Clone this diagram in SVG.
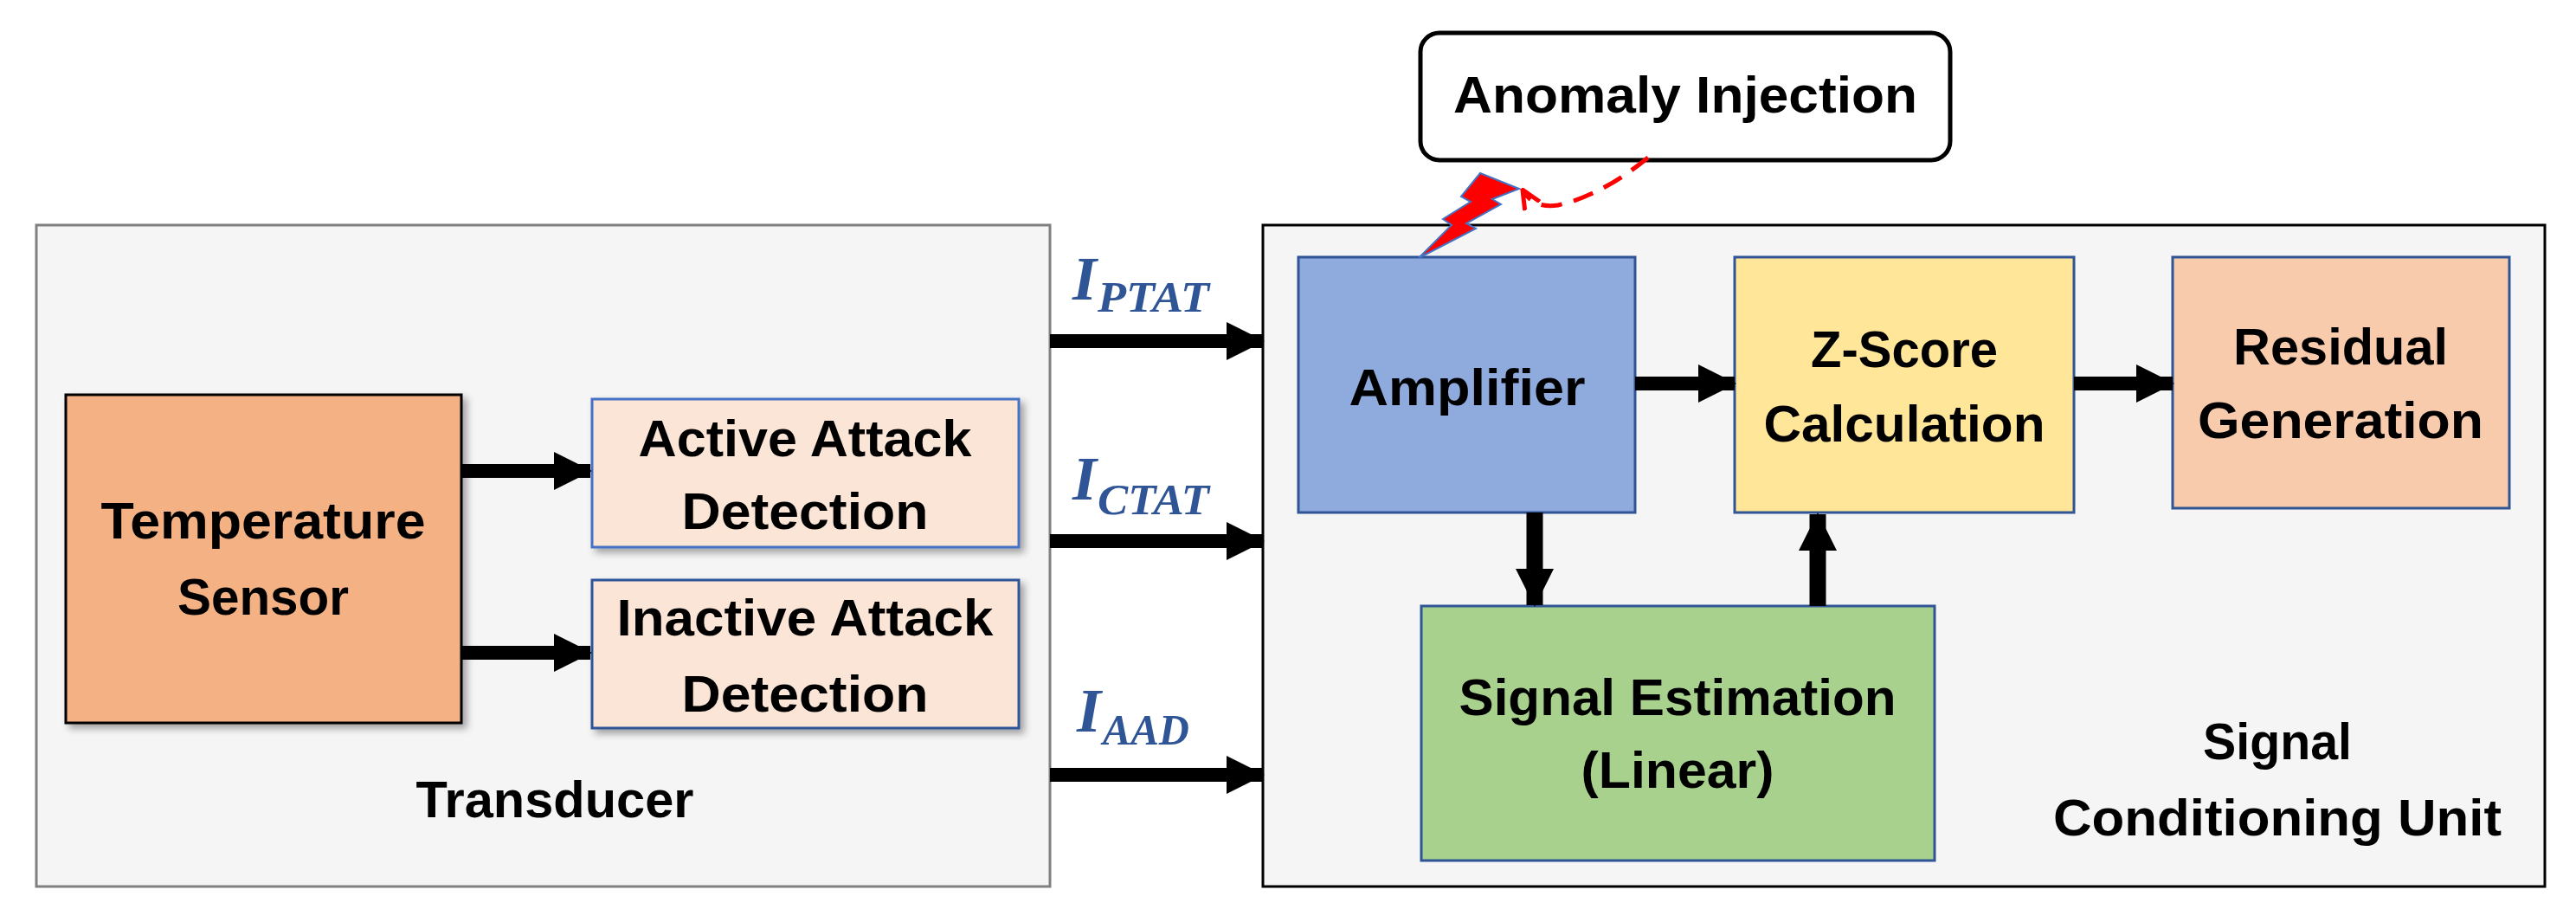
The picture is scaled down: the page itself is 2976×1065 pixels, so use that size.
<svg xmlns="http://www.w3.org/2000/svg" width="2976" height="1065" viewBox="0 0 2976 1065">
<style>
.t{font-family:"Liberation Sans",Arial,sans-serif;font-weight:bold;font-size:60px;fill:#000;text-anchor:middle}
.m{font-family:"Liberation Serif","Times New Roman",serif;font-weight:bold;font-style:italic;fill:#2F5597}
.blk{stroke:#2F5597;stroke-width:3}
.ar{stroke:#000;stroke-width:16;fill:none}
.av{stroke:#000;stroke-width:19;fill:none}
</style>
<defs>
<filter id="sh" x="-10%" y="-10%" width="130%" height="130%"><feDropShadow dx="5" dy="5" stdDeviation="4" flood-color="#000" flood-opacity="0.35"/></filter>
<marker id="ah" markerUnits="userSpaceOnUse" markerWidth="44" markerHeight="44" refX="42" refY="22" orient="auto"><path d="M0,0 L44,22 L0,44 Z" fill="#000"/></marker>
<marker id="rh" markerUnits="userSpaceOnUse" markerWidth="24" markerHeight="24" refX="20" refY="12" orient="auto"><path d="M0,2 L22,12 L0,22" fill="none" stroke="#FF0000" stroke-width="5"/></marker>
</defs>
<rect width="2976" height="1065" fill="#fff"/>
<g id="transducer">
<rect x="42" y="260" width="1171" height="764" fill="#F5F5F5" stroke="#808080" stroke-width="3"/>
<text class="t" x="641" y="944" textLength="321" lengthAdjust="spacingAndGlyphs">Transducer</text>
</g>
<g id="scu">
<rect x="1459" y="260" width="1481" height="764" fill="#F5F5F5" stroke="#000" stroke-width="3"/>
<text class="t" x="2631" y="877" textLength="172" lengthAdjust="spacingAndGlyphs">Signal</text>
<text class="t" x="2631" y="965" textLength="518" lengthAdjust="spacingAndGlyphs">Conditioning Unit</text>
</g>
<g id="sensor">
<rect x="76" y="456" width="457" height="379" fill="#F4B183" stroke="#000" stroke-width="3" filter="url(#sh)"/>
<text class="t" x="304" y="622" textLength="375" lengthAdjust="spacingAndGlyphs">Temperature</text>
<text class="t" x="304" y="710" textLength="198" lengthAdjust="spacingAndGlyphs">Sensor</text>
</g>
<g id="active">
<rect x="684" y="461" width="493" height="171" fill="#FBE5D6" stroke="#4472C4" stroke-width="3" filter="url(#sh)"/>
<text class="t" x="930" y="527" textLength="385" lengthAdjust="spacingAndGlyphs">Active Attack</text>
<text class="t" x="930" y="611" textLength="285" lengthAdjust="spacingAndGlyphs">Detection</text>
</g>
<g id="inactive">
<rect x="684" y="670" width="493" height="171" fill="#FBE5D6" stroke="#2F5597" stroke-width="3" filter="url(#sh)"/>
<text class="t" x="930" y="734" textLength="435" lengthAdjust="spacingAndGlyphs">Inactive Attack</text>
<text class="t" x="930" y="822" textLength="285" lengthAdjust="spacingAndGlyphs">Detection</text>
</g>
<g id="amplifier">
<rect class="blk" x="1500" y="297" width="389" height="295" fill="#8FAADC"/>
<text class="t" x="1695" y="468" textLength="273" lengthAdjust="spacingAndGlyphs">Amplifier</text>
</g>
<g id="zscore">
<rect class="blk" x="2004" y="297" width="392" height="295" fill="#FFE699"/>
<text class="t" x="2200" y="424" textLength="216" lengthAdjust="spacingAndGlyphs">Z-Score</text>
<text class="t" x="2200" y="510" textLength="325" lengthAdjust="spacingAndGlyphs">Calculation</text>
</g>
<g id="residual">
<rect class="blk" x="2510" y="297" width="389" height="290" fill="#F8CBAD"/>
<text class="t" x="2704" y="421" textLength="248" lengthAdjust="spacingAndGlyphs">Residual</text>
<text class="t" x="2704" y="506" textLength="330" lengthAdjust="spacingAndGlyphs">Generation</text>
</g>
<g id="estimation">
<rect class="blk" x="1642" y="700" width="593" height="294" fill="#A9D18E"/>
<text class="t" x="1938" y="826" textLength="505" lengthAdjust="spacingAndGlyphs">Signal Estimation</text>
<text class="t" x="1938" y="910" textLength="223" lengthAdjust="spacingAndGlyphs">(Linear)</text>
</g>
<g id="anomaly">
<rect x="1641" y="38" width="612" height="147" rx="22" fill="#fff" stroke="#000" stroke-width="5"/>
<text class="t" x="1947" y="130" textLength="536" lengthAdjust="spacingAndGlyphs">Anomaly Injection</text>
</g>
<g id="lightning">
<polygon points="1639,298 1705,264 1694,258 1734,236 1724,230 1755,218 1710,200 1688,227 1699,233 1667,253 1677,260" fill="#FF0000" stroke="#4472C4" stroke-width="2"/>
</g>
<g id="connectors">
<line class="ar" x1="533" y1="544" x2="682" y2="544" marker-end="url(#ah)"/>
<line class="ar" x1="533" y1="754" x2="682" y2="754" marker-end="url(#ah)"/>
<line class="ar" x1="1213" y1="394" x2="1459" y2="394" marker-end="url(#ah)"/>
<line class="ar" x1="1213" y1="625" x2="1459" y2="625" marker-end="url(#ah)"/>
<line class="ar" x1="1213" y1="895" x2="1459" y2="895" marker-end="url(#ah)"/>
<line class="ar" x1="1889" y1="443" x2="2004" y2="443" marker-end="url(#ah)"/>
<line class="ar" x1="2396" y1="443" x2="2510" y2="443" marker-end="url(#ah)"/>
<line class="av" x1="1773" y1="592" x2="1773" y2="699" marker-end="url(#ah)"/>
<line class="av" x1="2100" y1="700" x2="2100" y2="594" marker-end="url(#ah)"/>
<path d="M1904,182 Q1850,226 1800,237 Q1772,241 1760,221" fill="none" stroke="#FF0000" stroke-width="5" stroke-dasharray="24,14" marker-end="url(#rh)"/>
</g>
<g id="labels">
<text class="m" x="1239" y="346" font-size="72">I</text><text class="m" x="1268" y="360" font-size="50" textLength="129" lengthAdjust="spacingAndGlyphs">PTAT</text>
<text class="m" x="1239" y="577" font-size="72">I</text><text class="m" x="1268" y="594" font-size="50" textLength="129" lengthAdjust="spacingAndGlyphs">CTAT</text>
<text class="m" x="1244" y="845" font-size="72">I</text><text class="m" x="1274" y="860" font-size="50" textLength="100" lengthAdjust="spacingAndGlyphs">AAD</text>
</g>
</svg>
